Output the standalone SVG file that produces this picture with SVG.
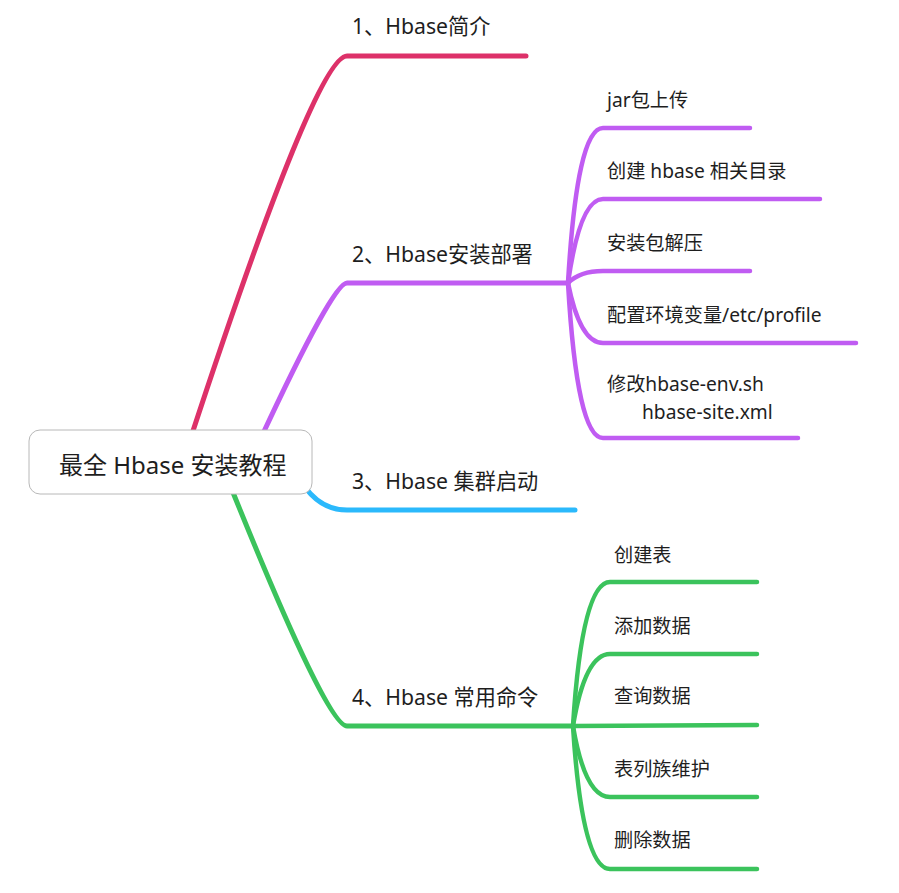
<svg xmlns="http://www.w3.org/2000/svg" width="899" height="893" viewBox="0 0 899 893">
<style>
.c{fill:none;stroke-linecap:round;stroke-linejoin:round}
.m{stroke-width:5}
.s{stroke-width:4.5}
.r{stroke:#dd3169}
.p{stroke:#c05cf2}
.b{stroke:#2bb9fc}
.g{stroke:#3bc35c}
text{font-family:"Noto Sans","Noto Sans CJK SC",sans-serif;fill:#1e1e1e}
.t0{font-size:24px}
.t1{font-size:21.2px}
.t2{font-size:19.2px}
</style>
<rect width="899" height="893" fill="#ffffff"/>
<g id="connectors">
<path class="c m r" d="M190 440 Q316 56 347 56 L526 56"/>
<path class="c m p" d="M260 440 Q333 283 347 283 L568 283"/>
<path class="c m b" d="M295 470 C308 498 325 510 347 510 L575 510"/>
<path class="c m g" d="M230 485 Q327 726 347 726 L573 726"/>
<path class="c s p" d="M568 283 Q577 128 603 128 L750 128"/>
<path class="c s p" d="M568 283 Q580 199 603 199 L820 199"/>
<path class="c s p" d="M568 283 Q580 271 603 271 L750 271"/>
<path class="c s p" d="M568 283 Q580 343 603 343 L856 343"/>
<path class="c s p" d="M568 283 Q577 438 603 438 L798 438"/>
<path class="c s g" d="M573 726 Q582 582 610 582 L757 582"/>
<path class="c s g" d="M573 726 Q585 654 610 654 L757 654"/>
<path class="c s g" d="M573 726 L757 725"/>
<path class="c s g" d="M573 726 Q585 797 610 797 L757 797"/>
<path class="c s g" d="M573 726 Q582 869 610 869 L757 869"/>
</g>
<g id="root">
<rect x="29" y="430" width="283" height="64" rx="11" fill="#ffffff" stroke="#b8b8b8" stroke-width="1"/>
<text class="t0" x="59" y="474">最全 Hbase 安装教程</text>
</g>
<g id="n1"><text class="t1" x="352" y="34">1、Hbase简介</text></g>
<g id="n2"><text class="t1" x="352" y="262">2、Hbase安装部署</text></g>
<g id="n3"><text class="t1" x="352" y="489">3、Hbase 集群启动</text></g>
<g id="n4"><text class="t1" x="352" y="705">4、Hbase 常用命令</text></g>
<g id="n2-1"><text class="t2" x="607" y="107">jar包上传</text></g>
<g id="n2-2"><text class="t2" x="607" y="178">创建 hbase 相关目录</text></g>
<g id="n2-3"><text class="t2" x="607" y="250">安装包解压</text></g>
<g id="n2-4"><text class="t2" x="607" y="322">配置环境变量/etc/profile</text></g>
<g id="n2-5"><text class="t2" x="607" y="391">修改hbase-env.sh</text><text class="t2" x="642" y="419">hbase-site.xml</text></g>
<g id="n4-1"><text class="t2" x="614" y="562">创建表</text></g>
<g id="n4-2"><text class="t2" x="614" y="633">添加数据</text></g>
<g id="n4-3"><text class="t2" x="614" y="703">查询数据</text></g>
<g id="n4-4"><text class="t2" x="614" y="776">表列族维护</text></g>
<g id="n4-5"><text class="t2" x="614" y="847">删除数据</text></g>
</svg>
